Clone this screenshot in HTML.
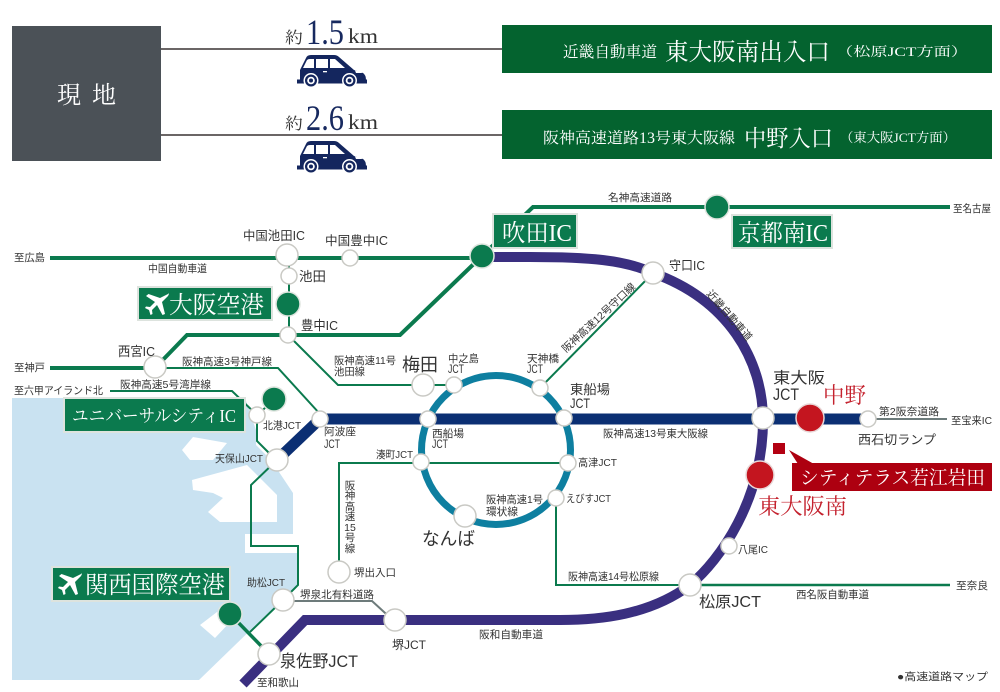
<!DOCTYPE html>
<html lang="ja"><head><meta charset="utf-8"><title>高速道路マップ</title>
<style>
html,body{margin:0;padding:0;background:#fff}
svg{display:block}
text{font-family:"Liberation Sans","Noto Sans CJK JP",sans-serif;fill:#333}
.se,.se text{font-family:"Liberation Serif","Noto Serif CJK SC",serif}
.w{fill:#fff}
.n{fill:#fff;stroke:#c9c9c4;stroke-width:1.5}
.g{fill:#0b7a4e;stroke:#dfe5df;stroke-width:1.5}
.r{fill:#c4151f;stroke:#e8d8d8;stroke-width:1.5}
.b{fill:#0b7a4e;stroke:#dde3de;stroke-width:2}
.l{fill:none;stroke:#0b7a4e}
</style></head><body>
<svg xmlns="http://www.w3.org/2000/svg" width="1000" height="692" viewBox="0 0 1000 692">
<defs>
<g id="car">
<path d="M3,25 V15 L9,3 Q10,0 14,0 H37 Q40,0 42,2 L57,15 L66,18 Q69,20 69,25 V28 H3 Z" fill="#14265e"/>
<path d="M6,13 L10,5 Q11,4 13,4 H17 V13 Z M19,4 H31 V13 H19 Z M33,4 H38 L48,13 H33 Z" fill="#fff"/>
<rect x="0" y="24.500" width="70" height="4" fill="#14265e"/>
<rect x="26" y="16" width="4" height="1.300" fill="#fff"/>
<path d="M58,15.500 L64,16.500 L65,18 H59 Z" fill="#fff"/>
<circle cx="14" cy="25.500" r="7.500" fill="#fff"/><circle cx="14" cy="25.500" r="6" fill="#14265e"/><circle cx="14" cy="25.500" r="3.800" fill="#fff"/><circle cx="14" cy="25.500" r="2" fill="#14265e"/>
<circle cx="52.500" cy="25.500" r="7.500" fill="#fff"/><circle cx="52.500" cy="25.500" r="6" fill="#14265e"/><circle cx="52.500" cy="25.500" r="3.800" fill="#fff"/><circle cx="52.500" cy="25.500" r="2" fill="#14265e"/>
</g>
<g id="plane"><path d="M11,-10 Q13,-12 11,-8 L5,-2 L8,10 L5.500,11 L0,1 L-5,6 L-4.500,10 L-6.500,11 L-8,6 L-12,4 L-11,2.500 L-7,3 L-2,-2 L-11,-8 L-8.500,-10 L3,-6 Z" fill="#fff"/></g>
</defs>

<!-- header -->
<rect x="12" y="26" width="149" height="135" fill="#4b5157"/>
<g class="se"><text x="57" y="103" font-size="24" class="w" style="fill:#fff" textLength="59">現 地</text></g>
<path d="M161,49 H502 M161,135 H502" stroke="#3a3433" stroke-width="1.500"/>
<rect x="502" y="25" width="490" height="48" fill="#04632f"/>
<rect x="502" y="110" width="490" height="49" fill="#04632f"/>
<g class="se">
<text x="285" y="43" font-size="16" textLength="18" lengthAdjust="spacingAndGlyphs">約</text>
<text x="306" y="44" font-size="36" style="fill:#17295f" textLength="38" lengthAdjust="spacingAndGlyphs">1.5</text>
<text x="348" y="43" font-size="21" textLength="30" lengthAdjust="spacingAndGlyphs">km</text>
<text x="285" y="129" font-size="16" textLength="18" lengthAdjust="spacingAndGlyphs">約</text>
<text x="306" y="130" font-size="36" style="fill:#17295f" textLength="38" lengthAdjust="spacingAndGlyphs">2.6</text>
<text x="348" y="129" font-size="21" textLength="30" lengthAdjust="spacingAndGlyphs">km</text>
<g style="fill:#fff">
<text x="563" y="57" font-size="15.500" style="fill:#fff" textLength="94" lengthAdjust="spacingAndGlyphs">近畿自動車道</text>
<text x="665" y="60" font-size="24" style="fill:#fff" textLength="165" lengthAdjust="spacingAndGlyphs">東大阪南出入口</text>
<text x="836" y="56" font-size="13" style="fill:#fff" textLength="132" lengthAdjust="spacingAndGlyphs">（松原JCT方面）</text>
<text x="543" y="143" font-size="15.500" style="fill:#fff" textLength="192" lengthAdjust="spacingAndGlyphs">阪神高速道路13号東大阪線</text>
<text x="744" y="146" font-size="23" style="fill:#fff" textLength="89" lengthAdjust="spacingAndGlyphs">中野入口</text>
<text x="840" y="142" font-size="13" style="fill:#fff" textLength="116" lengthAdjust="spacingAndGlyphs">（東大阪JCT方面）</text>
</g></g>
<use href="#car" x="297" y="55"/>
<use href="#car" x="297" y="141"/>

<!-- water -->
<path d="M12,398 H245 L256,430 V445 L271,460 L293,493 V534 H245 V553 H298 V584 L199,680 H12 Z" fill="#c9e2f1"/>
<path d="M182,450 L193,437 L227,443 L213,460 L190,460 Z M192,480 L247,465 L277,495 V522 H220 L208,512 L223,498 L213,493 L193,490 Z M200,625 L217,612 L232,620 L215,638 Z" fill="#fff"/>

<!-- thin roads -->
<g class="l">
<path d="M50,258 H482" stroke-width="4"/>
<path d="M50,368 H155 L187,335 H400 L482,256" stroke-width="4"/>
<path d="M482,256 L533,207 H950" stroke-width="4"/>
<path d="M289,258 V335" stroke-width="2"/>
<path d="M288,335 L338,385 H454" stroke-width="2"/>
<path d="M540,388 L653,273" stroke-width="2"/>
<path d="M155,368 H278 L320,414" stroke-width="2"/>
<path d="M110,391 H232 L257,415 V441 L271,455" stroke-width="2"/>
<path d="M257,415 L274,400" stroke-width="2"/>
<path d="M277,460 L251,485 V546 H298 V585 L283,600 L250,632" stroke-width="2"/>
<path d="M230,614 L269,654" stroke-width="3.500"/>
<path d="M339,572 V463 H568" stroke-width="2"/>
<path d="M556,498 V585 H690" stroke-width="2"/>
<path d="M690,585 H950" stroke-width="2.500"/>
</g>
<path d="M283,601 H372 L395,622" fill="none" stroke="#6d7b7b" stroke-width="2"/>
<path d="M868,419 H947" fill="none" stroke="#6d7b7b" stroke-width="2"/>

<!-- main roads -->
<circle cx="496" cy="450" r="74.500" fill="none" stroke="#0e7fa0" stroke-width="7"/>
<path d="M320,419 H868" stroke="#0b2f73" stroke-width="11" fill="none"/>
<path d="M320,419 L277,460" stroke="#0b2f73" stroke-width="11" fill="none"/>
<path d="M482,257 H530 C590,257 625,260 653,273 C728,300 763,360 763,420 C763,500 720,560 690,585 C650,615 600,620 560,620 H305 L243,684" fill="none" stroke="#3a2f80" stroke-width="10"/>

<!-- nodes -->
<circle class="n" cx="287" cy="255" r="11"/><circle class="n" cx="350" cy="258" r="8"/>
<circle class="n" cx="289" cy="276" r="8"/><circle class="g" cx="288" cy="304" r="12"/>
<circle class="n" cx="288" cy="335" r="8"/><circle class="n" cx="155" cy="367" r="11"/>
<circle class="n" cx="257" cy="415" r="8"/><circle class="g" cx="274" cy="399" r="12"/>
<circle class="n" cx="320" cy="419" r="8"/><circle class="n" cx="277" cy="460" r="11"/>
<circle class="n" cx="283" cy="600" r="11"/><circle class="n" cx="339" cy="572" r="11"/>
<circle class="n" cx="395" cy="620" r="11"/><circle class="n" cx="269" cy="654" r="11"/>
<circle class="g" cx="230" cy="614" r="12"/><circle class="n" cx="690" cy="585" r="11"/>
<circle class="n" cx="729" cy="546" r="8"/><circle class="n" cx="763" cy="418" r="11"/>
<circle class="r" cx="810" cy="418" r="14"/><circle class="r" cx="760" cy="475" r="14"/>
<circle class="n" cx="868" cy="419" r="8"/><circle class="n" cx="653" cy="273" r="11"/>
<circle class="g" cx="482" cy="256" r="12"/><circle class="g" cx="717" cy="207" r="12"/>
<circle class="n" cx="423" cy="385" r="11"/><circle class="n" cx="454" cy="385" r="8"/>
<circle class="n" cx="540" cy="388" r="8"/><circle class="n" cx="564" cy="418" r="8"/>
<circle class="n" cx="428" cy="419" r="8"/><circle class="n" cx="421" cy="462" r="8"/>
<circle class="n" cx="568" cy="463" r="8"/><circle class="n" cx="556" cy="498" r="8"/>
<circle class="n" cx="465" cy="516" r="11"/>

<!-- label boxes -->
<rect class="b" x="138" y="287" width="134" height="33"/>
<rect class="b" x="64" y="398" width="181" height="34"/>
<rect class="b" x="52" y="567" width="178" height="34"/>
<rect class="b" x="493" y="214" width="84" height="34"/>
<rect class="b" x="732" y="215" width="100" height="33"/>
<use href="#plane" transform="translate(157,304)"/>
<use href="#plane" transform="translate(70,584)"/>
<g class="se">
<text x="169" y="313" font-size="24" style="fill:#fff" textLength="95" lengthAdjust="spacingAndGlyphs">大阪空港</text>
<text x="72" y="422" font-size="18" style="fill:#fff" textLength="164" lengthAdjust="spacingAndGlyphs">ユニバーサルシティIC</text>
<text x="85" y="593" font-size="24" style="fill:#fff" textLength="140" lengthAdjust="spacingAndGlyphs">関西国際空港</text>
<text x="502" y="241" font-size="24" style="fill:#fff" textLength="70" lengthAdjust="spacingAndGlyphs">吹田IC</text>
<text x="738" y="241" font-size="24" style="fill:#fff" textLength="90" lengthAdjust="spacingAndGlyphs">京都南IC</text>
</g>
<rect x="773" y="443" width="12" height="11" fill="#b30012"/>
<path d="M789,450 L814,464 H798 Z" fill="#ad0010"/>
<rect x="792" y="463" width="200" height="28" fill="#ad0010"/>
<g class="se">
<text x="800" y="484" font-size="19" style="fill:#fff" textLength="185" lengthAdjust="spacingAndGlyphs">シティテラス若江岩田</text>
<text x="823" y="403" font-size="22" style="fill:#c4222e" textLength="43" lengthAdjust="spacingAndGlyphs">中野</text>
<text x="758" y="514" font-size="22" style="fill:#c4222e" textLength="89" lengthAdjust="spacingAndGlyphs">東大阪南</text>
</g>

<!-- labels -->
<g font-size="10.500">
<text x="14" y="261" textLength="31" lengthAdjust="spacingAndGlyphs">至広島</text>
<text x="148" y="272" textLength="59" lengthAdjust="spacingAndGlyphs">中国自動車道</text>
<text x="243" y="240" font-size="12.500" textLength="62" lengthAdjust="spacingAndGlyphs">中国池田IC</text>
<text x="325" y="245" font-size="12.500" textLength="63" lengthAdjust="spacingAndGlyphs">中国豊中IC</text>
<text x="299" y="281" font-size="13" textLength="27" lengthAdjust="spacingAndGlyphs">池田</text>
<text x="301" y="330" font-size="13" textLength="37" lengthAdjust="spacingAndGlyphs">豊中IC</text>
<text x="118" y="356" font-size="13" textLength="37" lengthAdjust="spacingAndGlyphs">西宮IC</text>
<text x="14" y="371" textLength="31" lengthAdjust="spacingAndGlyphs">至神戸</text>
<text x="182" y="365" textLength="90" lengthAdjust="spacingAndGlyphs">阪神高速3号神戸線</text>
<text x="14" y="394" textLength="89" lengthAdjust="spacingAndGlyphs">至六甲アイランド北</text>
<text x="120" y="388" textLength="91" lengthAdjust="spacingAndGlyphs">阪神高速5号湾岸線</text>
<text x="263" y="429" textLength="38" lengthAdjust="spacingAndGlyphs">北港JCT</text>
<text x="324" y="435" textLength="32" lengthAdjust="spacingAndGlyphs">阿波座</text>
<text x="324" y="448" font-size="12" textLength="16" lengthAdjust="spacingAndGlyphs">JCT</text>
<text x="215" y="462" textLength="48" lengthAdjust="spacingAndGlyphs">天保山JCT</text>
<text x="334" y="364" textLength="62" lengthAdjust="spacingAndGlyphs">阪神高速11号</text>
<text x="334" y="375" textLength="31" lengthAdjust="spacingAndGlyphs">池田線</text>
<text x="402" y="371" font-size="18" textLength="36" lengthAdjust="spacingAndGlyphs">梅田</text>
<text x="448" y="362" textLength="31" lengthAdjust="spacingAndGlyphs">中之島</text>
<text x="448" y="373" font-size="12" textLength="16" lengthAdjust="spacingAndGlyphs">JCT</text>
<text x="527" y="362" textLength="32" lengthAdjust="spacingAndGlyphs">天神橋</text>
<text x="527" y="373" font-size="12" textLength="16" lengthAdjust="spacingAndGlyphs">JCT</text>
<text x="570" y="394" font-size="13" textLength="40" lengthAdjust="spacingAndGlyphs">東船場</text>
<text x="570" y="408" font-size="14" textLength="20" lengthAdjust="spacingAndGlyphs">JCT</text>
<text x="432" y="437" textLength="32" lengthAdjust="spacingAndGlyphs">西船場</text>
<text x="432" y="448" font-size="12" textLength="16" lengthAdjust="spacingAndGlyphs">JCT</text>
<text x="603" y="437" textLength="105" lengthAdjust="spacingAndGlyphs">阪神高速13号東大阪線</text>
<text x="376" y="458" textLength="37" lengthAdjust="spacingAndGlyphs">湊町JCT</text>
<text x="578" y="466" textLength="39" lengthAdjust="spacingAndGlyphs">高津JCT</text>
<text x="566" y="502" textLength="45" lengthAdjust="spacingAndGlyphs">えびすJCT</text>
<text x="486" y="503" textLength="57" lengthAdjust="spacingAndGlyphs">阪神高速1号</text>
<text x="486" y="515" textLength="32" lengthAdjust="spacingAndGlyphs">環状線</text>
<text x="422" y="545" font-size="18" textLength="53" lengthAdjust="spacingAndGlyphs">なんば</text>
<g text-anchor="middle">
<text x="350" y="489">阪</text><text x="350" y="499">神</text><text x="350" y="510">高</text><text x="350" y="520">速</text><text x="350" y="531">15</text><text x="350" y="541">号</text><text x="350" y="552">線</text>
</g>
<text x="354" y="576" textLength="42" lengthAdjust="spacingAndGlyphs">堺出入口</text>
<text x="247" y="586" textLength="38" lengthAdjust="spacingAndGlyphs">助松JCT</text>
<text x="300" y="598" textLength="74" lengthAdjust="spacingAndGlyphs">堺泉北有料道路</text>
<text x="392" y="649" font-size="12" textLength="34" lengthAdjust="spacingAndGlyphs">堺JCT</text>
<text x="479" y="638" textLength="64" lengthAdjust="spacingAndGlyphs">阪和自動車道</text>
<text x="280" y="667" font-size="17" textLength="78" lengthAdjust="spacingAndGlyphs">泉佐野JCT</text>
<text x="257" y="686" textLength="42" lengthAdjust="spacingAndGlyphs">至和歌山</text>
<text x="699" y="607" font-size="15.500" textLength="62" lengthAdjust="spacingAndGlyphs">松原JCT</text>
<text x="568" y="580" textLength="91" lengthAdjust="spacingAndGlyphs">阪神高速14号松原線</text>
<text x="796" y="598" textLength="73" lengthAdjust="spacingAndGlyphs">西名阪自動車道</text>
<text x="956" y="589" textLength="32" lengthAdjust="spacingAndGlyphs">至奈良</text>
<text x="738" y="553" textLength="30" lengthAdjust="spacingAndGlyphs">八尾IC</text>
<text x="773" y="383" font-size="15.500" textLength="52" lengthAdjust="spacingAndGlyphs">東大阪</text>
<text x="773" y="400" font-size="17" textLength="26" lengthAdjust="spacingAndGlyphs">JCT</text>
<text x="879" y="415" textLength="60" lengthAdjust="spacingAndGlyphs">第2阪奈道路</text>
<text x="951" y="424" textLength="41" lengthAdjust="spacingAndGlyphs">至宝来IC</text>
<text x="858" y="444" font-size="12.500" textLength="78" lengthAdjust="spacingAndGlyphs">西石切ランプ</text>
<text x="897" y="680" textLength="91" lengthAdjust="spacingAndGlyphs">●高速道路マップ</text>
<text x="608" y="201" textLength="64" lengthAdjust="spacingAndGlyphs">名神高速道路</text>
<text x="953" y="212" textLength="38" lengthAdjust="spacingAndGlyphs">至名古屋</text>
<text x="669" y="270" font-size="13" textLength="36" lengthAdjust="spacingAndGlyphs">守口IC</text>
<text transform="translate(566,353) rotate(-43)" textLength="96" lengthAdjust="spacingAndGlyphs">阪神高速12号守口線</text>
<text transform="translate(706,294) rotate(49)" textLength="63" lengthAdjust="spacingAndGlyphs">近畿自動車道</text>
</g>
</svg>
</body></html>
